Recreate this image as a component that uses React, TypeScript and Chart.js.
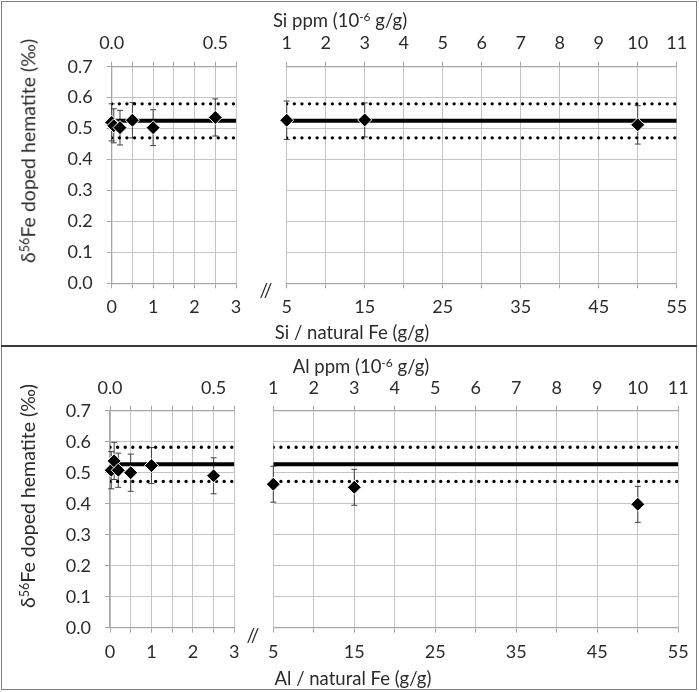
import { useEffect, useRef } from "react";
import { Chart, registerables } from "chart.js";

Chart.register(...registerables);

const FONT = "Lato, 'Open Sans', sans-serif";
const TEXT = "#2b2b2b";
const GRID = "#c4c4c4";
const AXIS = "#a6a6a6";

// Si doped hematite: Si / natural Fe (g/g), d56Fe (permil) and 2SD
const siRatio = [0, 0.05, 0.2, 0.5, 1, 2.5, 5, 15, 50];
const siDelta = [0.52, 0.509, 0.503, 0.527, 0.503, 0.536, 0.527, 0.528, 0.512];
const siErr = [0.06, 0.055, 0.056, 0.057, 0.058, 0.06, 0.062, 0.055, 0.062];
const siMean = 0.525;
const siBand = [0.47, 0.58];

// Al doped hematite
const alRatio = [0.03, 0.1, 0.2, 0.5, 1, 2.5, 5, 15, 50];
const alDelta = [0.508, 0.538, 0.508, 0.5, 0.523, 0.49, 0.463, 0.453, 0.398];
const alErr = [0.06, 0.06, 0.055, 0.06, 0.058, 0.058, 0.058, 0.058, 0.058];
const alMean = 0.527;
const alBand = [0.472, 0.582];

// axis ranges and tick labels (broken x axis: 0-3 and 5-55)
const leftRange = [0, 3];
const rightRange = [5, 55];
const leftBottomLabels = [0, 1, 2, 3];
const rightBottomLabels = [5, 15, 25, 35, 45, 55];
const leftTopLabels = [0.0, 0.5];
const rightTopLabels = [1, 2, 3, 4, 5, 6, 7, 8, 9, 10, 11];
const ppmPerRatio = 1 / 5;
const yLabels = [0, 0.1, 0.2, 0.3, 0.4, 0.5, 0.6, 0.7];

const has = (list: number[], v: number) => list.some((l) => Math.abs(l - v) < 1e-6);

// draws the 2SD bars of any dataset carrying an err list
const errorBars = {
  id: "errorBars",
  beforeDatasetsDraw(chart: any) {
    const { ctx } = chart;
    const xs = chart.scales.x;
    const ys = chart.scales.y;
    chart.data.datasets.forEach((ds: any) => {
      if (!ds.err) return;
      ctx.save();
      ctx.strokeStyle = "#404040";
      ctx.lineWidth = 1;
      ds.data.forEach((p: any, i: number) => {
        const x = xs.getPixelForValue(p.x);
        const y1 = ys.getPixelForValue(p.y + ds.err[i]);
        const y2 = ys.getPixelForValue(p.y - ds.err[i]);
        ctx.beginPath();
        ctx.moveTo(x, y1);
        ctx.lineTo(x, y2);
        ctx.moveTo(x - 3, y1);
        ctx.lineTo(x + 3, y1);
        ctx.moveTo(x - 3, y2);
        ctx.lineTo(x + 3, y2);
        ctx.stroke();
      });
      ctx.restore();
    });
  },
};

interface SubProps {
  left: number;
  top: number;
  width: number;
  height: number;
  area: { left: number; right: number; top: number; bottom: number };
  range: number[];
  xStep: number;
  xLabels: number[];
  topStep: number;
  topLabels: number[];
  showY: boolean;
  topPad: number;
  bottomPad: number;
  xs: number[];
  ys: number[];
  errs: number[];
  mean: number;
  band: number[];
}

const SubChart = (p: SubProps) => {
  const canvasRef = useRef<HTMLCanvasElement | null>(null);

  useEffect(() => {
    if (!canvasRef.current) return;
    const [xMin, xMax] = p.range;
    const idx = p.xs.map((_, i) => i).filter((i) => p.xs[i] >= xMin && p.xs[i] <= xMax);
    const flat = (v: number) => [
      { x: xMin, y: v },
      { x: xMax, y: v },
    ];
    const dotted = {
      showLine: true,
      borderColor: "#000",
      borderWidth: 3.4,
      borderDash: [0.01, 7.6],
      borderCapStyle: "round",
      pointRadius: 0,
      order: 2,
    };
    const font = { family: FONT, size: 18 };

    const chart = new Chart(canvasRef.current, {
      type: "scatter",
      data: {
        datasets: [
          {
            label: "samples",
            data: idx.map((i) => ({ x: p.xs[i], y: p.ys[i] })),
            err: idx.map((i) => p.errs[i]),
            pointStyle: "rectRot",
            pointRadius: 7,
            pointBackgroundColor: "#000",
            pointBorderColor: "#fff",
            pointBorderWidth: 1,
            clip: false,
            order: 0,
          } as any,
          {
            label: "mean",
            data: flat(p.mean),
            showLine: true,
            borderColor: "#000",
            borderWidth: 4,
            pointRadius: 0,
            order: 1,
          },
          { label: "upper", data: flat(p.band[1]), ...dotted } as any,
          { label: "lower", data: flat(p.band[0]), ...dotted } as any,
        ],
      },
      options: {
        responsive: true,
        maintainAspectRatio: false,
        animation: false,
        events: [],
        layout: { padding: { left: 0, right: p.width - p.area.right, top: 0, bottom: 0 } },
        plugins: { legend: { display: false }, tooltip: { enabled: false } },
        scales: {
          x: {
            type: "linear",
            position: "bottom",
            min: xMin,
            max: xMax,
            afterFit: (s: any) => {
              s.height = p.height - p.area.bottom;
            },
            ticks: {
              stepSize: p.xStep,
              autoSkip: false,
              maxRotation: 0,
              padding: p.bottomPad,
              color: TEXT,
              font,
              callback: (v: any) => (has(p.xLabels, Number(v)) ? String(Math.round(Number(v))) : ""),
            },
            grid: {
              color: GRID,
              borderDash: [4, 3],
              tickLength: 5,
              tickColor: AXIS,
              tickBorderDash: [],
            } as any,
            border: { display: true, color: AXIS, width: 1.3 },
          },
          x2: {
            type: "linear",
            position: "top",
            min: xMin * ppmPerRatio,
            max: xMax * ppmPerRatio,
            afterFit: (s: any) => {
              s.height = p.area.top;
            },
            ticks: {
              stepSize: p.topStep,
              autoSkip: false,
              maxRotation: 0,
              padding: p.topPad,
              color: TEXT,
              font,
              callback: (v: any) => {
                const n = Number(v);
                if (!has(p.topLabels, n)) return "";
                return p.showY ? n.toFixed(1) : String(Math.round(n));
              },
            },
            grid: {
              drawOnChartArea: false,
              color: GRID,
              tickLength: 5,
              tickColor: AXIS,
            },
            border: { display: true, color: AXIS, width: 1.3 },
          },
          y: {
            type: "linear",
            min: 0,
            max: 0.7,
            afterFit: (s: any) => {
              s.width = p.area.left;
            },
            ticks: {
              display: p.showY,
              stepSize: 0.1,
              padding: 14,
              color: TEXT,
              font,
              callback: (v: any) => (has(yLabels, Number(v)) ? Number(v).toFixed(1) : ""),
            },
            grid: {
              color: GRID,
              borderDash: [4, 3],
              drawTicks: p.showY,
              tickLength: 5,
              tickColor: AXIS,
              tickBorderDash: [],
            } as any,
            border: { display: p.showY, color: AXIS, width: 1.3 },
          },
        },
      } as any,
      plugins: [errorBars],
    });
    return () => chart.destroy();
  }, []);

  return (
    <div style={{ position: "absolute", left: p.left, top: p.top, width: p.width, height: p.height }}>
      <canvas ref={canvasRef} />
    </div>
  );
};

const Label = ({
  x,
  y,
  size,
  rotate,
  children,
}: {
  x: number;
  y: number;
  size: number;
  rotate?: boolean;
  children: any;
}) => (
  <div
    style={{
      position: "absolute",
      left: x,
      top: y,
      transform: `translate(-50%, -50%)${rotate ? " rotate(-90deg)" : ""}`,
      fontFamily: FONT,
      fontSize: size,
      lineHeight: 1,
      color: TEXT,
      whiteSpace: "nowrap",
    }}
  >
    {children}
  </div>
);

const Sup = ({ children }: { children: any }) => (
  <span style={{ fontSize: "0.65em", position: "relative", top: "-0.5em" }}>{children}</span>
);

interface PanelProps {
  top: number;
  el: string;
  xs: number[];
  ys: number[];
  errs: number[];
  mean: number;
  band: number[];
  plotTop: number;
  plotBottom: number;
  leftArea: number[];
  rightStart: number;
  rightArea: number[];
  topPad: number;
  bottomPad: number;
  topTitleX: number;
  bottomTitleX: number;
  breakX: number;
  yTitleY: number;
}

const Panel = (p: PanelProps) => {
  const h = 346;
  const series = { xs: p.xs, ys: p.ys, errs: p.errs, mean: p.mean, band: p.band };
  return (
    <div style={{ position: "absolute", left: 0, top: p.top, width: 699, height: h }}>
      <SubChart
        left={0}
        top={0}
        width={250}
        height={h}
        area={{ left: p.leftArea[0], right: p.leftArea[1], top: p.plotTop, bottom: p.plotBottom }}
        range={leftRange}
        xStep={0.5}
        xLabels={leftBottomLabels}
        topStep={0.1}
        topLabels={leftTopLabels}
        showY={true}
        topPad={p.topPad}
        bottomPad={p.bottomPad}
        {...series}
      />
      <SubChart
        left={p.rightStart}
        top={0}
        width={699 - p.rightStart}
        height={h}
        area={{
          left: p.rightArea[0] - p.rightStart,
          right: p.rightArea[1] - p.rightStart,
          top: p.plotTop,
          bottom: p.plotBottom,
        }}
        range={rightRange}
        xStep={5}
        xLabels={rightBottomLabels}
        topStep={1}
        topLabels={rightTopLabels}
        showY={false}
        topPad={p.topPad}
        bottomPad={p.bottomPad}
        {...series}
      />
      <Label x={p.topTitleX} y={20} size={18.5}>
        {p.el} ppm (10<Sup>-6</Sup> g/g)
      </Label>
      <Label x={p.bottomTitleX} y={h - 14} size={18.5}>
        {p.el} / natural Fe (g/g)
      </Label>
      <Label x={p.breakX} y={p.plotBottom + 6} size={19}>
        //
      </Label>
      <Label x={28} y={p.yTitleY} size={19.5} rotate>
        δ<Sup>56</Sup>Fe doped hematite (‰)
      </Label>
    </div>
  );
};

export default function App() {
  return (
    <div
      style={{
        position: "absolute",
        left: 0,
        top: 0,
        width: 699,
        height: 692,
        background: "#fff",
        overflow: "hidden",
      }}
    >
      <Panel
        top={0}
        el="Si"
        xs={siRatio}
        ys={siDelta}
        errs={siErr}
        mean={siMean}
        band={siBand}
        plotTop={66.7}
        plotBottom={283.3}
        leftArea={[111.7, 236]}
        rightStart={255}
        rightArea={[286.7, 676.7]}
        topPad={8}
        bottomPad={8}
        topTitleX={340}
        bottomTitleX={352}
        breakX={266}
        yTitleY={151}
      />
      <Panel
        top={346}
        el="Al"
        xs={alRatio}
        ys={alDelta}
        errs={alErr}
        mean={alMean}
        band={alBand}
        plotTop={64.7}
        plotBottom={281.7}
        leftArea={[110, 234.3]}
        rightStart={250}
        rightArea={[273.3, 678.3]}
        topPad={7}
        bottomPad={8.5}
        topTitleX={361}
        bottomTitleX={353}
        breakX={253}
        yTitleY={150}
      />
      <div
        style={{
          position: "absolute",
          left: 1,
          top: 1,
          width: 694,
          height: 687,
          border: "1px solid #7f7f7f",
          pointerEvents: "none",
        }}
      />
      <div style={{ position: "absolute", left: 1, top: 345, width: 696, height: 2, background: "#3a3a3a" }} />
    </div>
  );
}
